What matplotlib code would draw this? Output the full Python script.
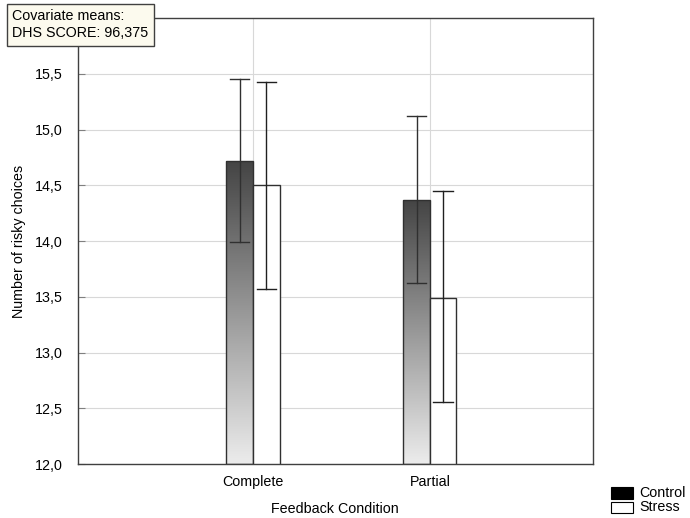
import matplotlib.pyplot as plt
import matplotlib.ticker as mticker
from matplotlib.patches import Rectangle
from matplotlib.colors import LinearSegmentedColormap
import numpy as np

plt.rcParams['font.family'] = ['Liberation Sans', 'DejaVu Sans']

# data
categories = ['Complete', 'Partial']
control_mean = [14.72, 14.37]
control_lo = [13.99, 13.62]
control_hi = [15.45, 15.12]
stress_mean = [14.50, 13.49]
stress_lo = [13.57, 12.56]
stress_hi = [15.43, 14.45]

fs = 10.3
fig = plt.figure(figsize=(6.9, 5.18), dpi=100)
ax = fig.add_axes([0.113, 0.104, 0.746, 0.861])

x = np.arange(1, len(categories) + 1)
w = 0.15
ymin, ymax = 12.0, 16.0

# gradient for control bars (light at bottom, dark at top)
cmap = LinearSegmentedColormap.from_list('bar', ['#ececec', '#444444'])
grad = np.linspace(0, 1, 256).reshape(-1, 1)
for xi, m in zip(x, control_mean):
    rect = Rectangle((xi - w, ymin), w, m - ymin, facecolor='none',
                     edgecolor='#303030', linewidth=1, zorder=3)
    ax.add_patch(rect)
    im = ax.imshow(grad, extent=(xi - w, xi, ymin, m), origin='lower',
                   cmap=cmap, aspect='auto', zorder=2)
    im.set_clip_path(rect)

ax.bar(x + w / 2, np.array(stress_mean) - ymin, width=w, bottom=ymin,
       color='white', edgecolor='#303030', linewidth=1, zorder=3)

# error bars
cap = 0.055
for xi, lo, hi in zip(x - w / 2, control_lo, control_hi):
    ax.plot([xi, xi], [lo, hi], color='#303030', lw=1, zorder=4)
    ax.plot([xi - cap, xi + cap], [lo, lo], color='#303030', lw=1, zorder=4)
    ax.plot([xi - cap, xi + cap], [hi, hi], color='#303030', lw=1, zorder=4)
for xi, lo, hi in zip(x + w / 2, stress_lo, stress_hi):
    ax.plot([xi, xi], [lo, hi], color='#202020', lw=1, zorder=4)
    ax.plot([xi - cap, xi + cap], [lo, lo], color='#202020', lw=1, zorder=4)
    ax.plot([xi - cap, xi + cap], [hi, hi], color='#202020', lw=1, zorder=4)

ax.set_xlim(0.011, 2.92)
ax.set_ylim(ymin, ymax)
ax.set_xticks(x)
ax.set_xticklabels(categories, fontsize=fs)
ax.set_yticks(np.arange(12.0, 15.6, 0.5))
ax.yaxis.set_major_formatter(mticker.FuncFormatter(lambda v, p: f'{v:.1f}'.replace('.', ',')))
ax.tick_params(axis='y', direction='in', length=5, color='#808080', labelsize=fs, pad=11)
ax.tick_params(axis='x', length=0, labelsize=fs, pad=7.5)
ax.grid(True, color='#d8d8d8', lw=0.8, zorder=0)
ax.set_axisbelow(True)
for s in ax.spines.values():
    s.set_color('#404040')
    s.set_linewidth(1)

ax.set_xlabel('Feedback Condition', fontsize=fs, labelpad=10)
ax.set_ylabel('Number of risky choices', fontsize=fs, labelpad=6)

# covariate box
fig.text(0.0174, 0.952, 'Covariate means:\nDHS SCORE: 96,375', fontsize=fs,
         va='center', ha='left', linespacing=1.25,
         bbox=dict(boxstyle='square,pad=0.38', facecolor='#fcfaee', edgecolor='#404040', lw=1))

# legend
fig.patches.append(Rectangle((0.885, 0.037), 0.033, 0.023, transform=fig.transFigure,
                             facecolor='black', edgecolor='black', lw=0.8))
fig.patches.append(Rectangle((0.885, 0.010), 0.033, 0.021, transform=fig.transFigure,
                             facecolor='white', edgecolor='black', lw=0.8))
fig.text(0.927, 0.049, 'Control', fontsize=fs, va='center')
fig.text(0.927, 0.021, 'Stress', fontsize=fs, va='center')

fig.savefig('out.png', dpi=100)
